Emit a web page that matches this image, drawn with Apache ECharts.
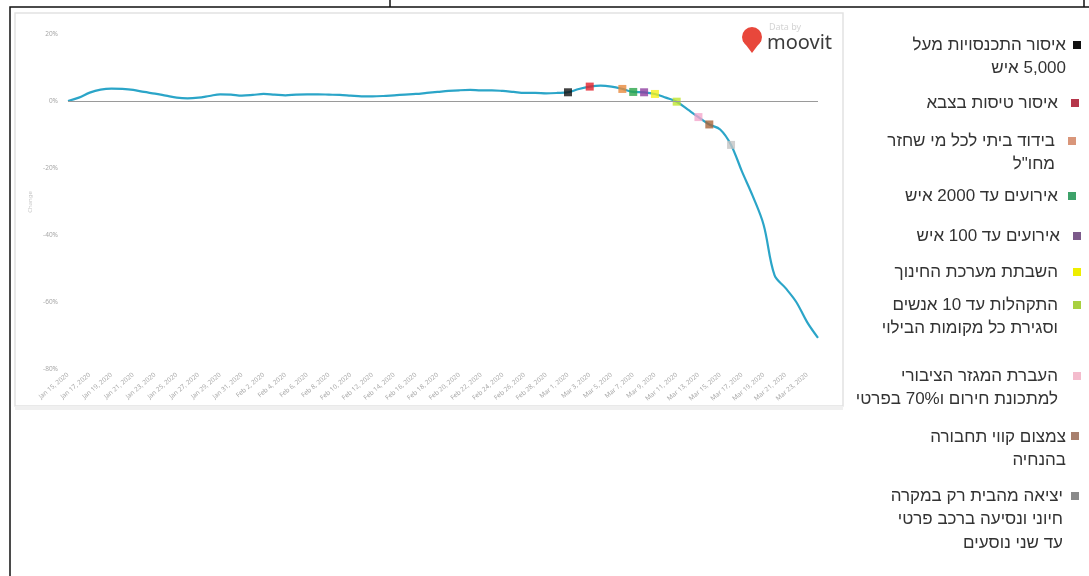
<!DOCTYPE html>
<html>
<head>
<meta charset="utf-8">
<script src="https://cdn.jsdelivr.net/npm/echarts@6/dist/echarts.min.js"></script>
<style>
html,body{margin:0;padding:0;background:#fff;}
#c{width:1089px;height:576px;}
</style>
</head>
<body>
<div id="c"></div>
<script>
// ---- categories (daily, Jan 15 – Mar 24, 2020) ----
const dates = [
 'Jan 15, 2020','Jan 16, 2020','Jan 17, 2020','Jan 18, 2020','Jan 19, 2020','Jan 20, 2020','Jan 21, 2020','Jan 22, 2020','Jan 23, 2020','Jan 24, 2020',
 'Jan 25, 2020','Jan 26, 2020','Jan 27, 2020','Jan 28, 2020','Jan 29, 2020','Jan 30, 2020','Jan 31, 2020','Feb 1, 2020','Feb 2, 2020','Feb 3, 2020',
 'Feb 4, 2020','Feb 5, 2020','Feb 6, 2020','Feb 7, 2020','Feb 8, 2020','Feb 9, 2020','Feb 10, 2020','Feb 11, 2020','Feb 12, 2020','Feb 13, 2020',
 'Feb 14, 2020','Feb 15, 2020','Feb 16, 2020','Feb 17, 2020','Feb 18, 2020','Feb 19, 2020','Feb 20, 2020','Feb 21, 2020','Feb 22, 2020','Feb 23, 2020',
 'Feb 24, 2020','Feb 25, 2020','Feb 26, 2020','Feb 27, 2020','Feb 28, 2020','Feb 29, 2020','Mar 1, 2020','Mar 2, 2020','Mar 3, 2020','Mar 4, 2020',
 'Mar 5, 2020','Mar 6, 2020','Mar 7, 2020','Mar 8, 2020','Mar 9, 2020','Mar 10, 2020','Mar 11, 2020','Mar 12, 2020','Mar 13, 2020','Mar 14, 2020',
 'Mar 15, 2020','Mar 16, 2020','Mar 17, 2020','Mar 18, 2020','Mar 19, 2020','Mar 20, 2020','Mar 21, 2020','Mar 22, 2020','Mar 23, 2020','Mar 24, 2020'
];
// ---- change in public-transit use (%) ----
const changeValues = [
 0, 1.0, 2.5, 3.4, 3.7, 3.6, 3.3, 2.7, 2.2, 1.6,
 1.0, 0.8, 1.0, 1.5, 2.0, 1.9, 1.6, 1.8, 2.1, 1.9,
 1.7, 1.9, 2.0, 2.0, 1.9, 1.8, 1.6, 1.4, 1.4, 1.5,
 1.7, 1.9, 2.1, 2.4, 2.7, 3.0, 3.2, 3.3, 3.2, 3.2,
 3.0, 2.7, 2.4, 2.4, 2.3, 2.4, 2.6, 3.6, 4.3, 4.6,
 4.3, 3.6, 2.7, 2.6, 2.1, 1.0, -0.2, -2.5, -4.8, -7.0,
 -8.5, -13.1, -21.0, -28.4, -37.0, -52.0, -55.8, -60.0, -66.0, -70.7
];
// ---- y ticks ----
const yTicks = [20, 0, -20, -40, -60, -80];
// ---- event markers ----
const markerDates = ['Mar 1, 2020','Mar 3, 2020','Mar 6, 2020','Mar 7, 2020','Mar 8, 2020','Mar 9, 2020','Mar 11, 2020','Mar 13, 2020','Mar 14, 2020','Mar 16, 2020'];
const markerColors = ['#111111','#e5202a','#e98a3c','#2aa54a','#8f3fa0','#f4f01c','#bfe52e','#f4a6cc','#a8643a','#c4c4c4'];
const legendColors = ['#111111','#b5364a','#d9967a','#3ea26a','#7c5a8a','#eeee00','#a8d040','#f4bccd','#a8806e','#8a8a8a'];
const legendLines = [
 ['איסור התכנסויות מעל','5,000 איש'],
 ['איסור טיסות בצבא'],
 ['בידוד ביתי לכל מי שחזר','מחו"ל'],
 ['אירועים עד 2000 איש'],
 ['אירועים עד 100 איש'],
 ['השבתת מערכת החינוך'],
 ['התקהלות עד 10 אנשים','וסגירת כל מקומות הבילוי'],
 ['העברת המגזר הציבורי','למתכונת חירום ו70% בפרטי'],
 ['צמצום קווי תחבורה','בהנחיה'],
 ['יציאה מהבית רק במקרה','חיוני ונסיעה ברכב פרטי','עד שני נוסעים']
];

// layout of the side legend (positions only)
const legendPos = [
 {sx:1077, sy:45, tx:1066, ty:45},
 {sx:1075, sy:103, tx:1058, ty:103},
 {sx:1072, sy:141, tx:1055, ty:141},
 {sx:1072, sy:196, tx:1058, ty:196},
 {sx:1077, sy:236, tx:1060, ty:236},
 {sx:1077, sy:272, tx:1058, ty:272},
 {sx:1077, sy:305, tx:1058, ty:305},
 {sx:1077, sy:376, tx:1058, ty:376},
 {sx:1075, sy:436, tx:1066, ty:437},
 {sx:1075, sy:496, tx:1063, ty:496}
];
const lineGap = 23.5;
const LEG_FONT = 17;
const LEG_FAMILY = 'Liberation Sans';

const chart = echarts.init(document.getElementById('c'), null, {renderer:'canvas'});

const graphics = [
  // outer frame
  {type:'rect', z:0, shape:{x:10, y:7, width:1100, height:600}, style:{fill:'#fff', stroke:'#111', lineWidth:1.5}},
  {type:'line', shape:{x1:390, y1:0, x2:390, y2:7}, style:{stroke:'#111', lineWidth:1.5}},
  {type:'line', shape:{x1:1084, y1:0, x2:1084, y2:7}, style:{stroke:'#111', lineWidth:1.5}},
  // chart picture box
  {type:'rect', z:1, shape:{x:15, y:13, width:828, height:393}, style:{fill:'#fff', stroke:'#e2e2e2', lineWidth:1.5}},
  {type:'rect', z:1, shape:{x:15, y:406, width:828, height:4}, style:{fill:'#f0f0f0'}},
  // moovit logo (pin)
  {type:'polygon', z:5, shape:{points:[[743,41],[761,41],[752,53]]}, style:{fill:'#e8473b'}},
  {type:'circle', z:5, shape:{cx:752, cy:37, r:10}, style:{fill:'#e8473b'}},
  {type:'text', z:5, left:769, top:23, style:{text:'Data by', fill:'#d4d4d4', fontSize:9, fontFamily:'Noto Sans'}},
  {type:'text', z:5, left:767, top:33, style:{text:'moovit', fill:'#3c3c3c', fontSize:20, fontFamily:'Noto Sans'}},
  // axis name
  {type:'text', z:5, x:30, y:202, rotation:Math.PI/2, style:{text:'Change', fill:'#c8c8c8', fontSize:6, fontFamily:'Noto Sans', align:'center', verticalAlign:'middle'}}
];

legendLines.forEach((lines, i) => {
  const p = legendPos[i];
  graphics.push({type:'rect', z:5, shape:{x:p.sx-4, y:p.sy-4, width:8, height:8}, style:{fill:legendColors[i]}});
  lines.forEach((line, j) => {
    graphics.push({type:'text', z:5, x:p.tx, y:p.ty + j*lineGap,
      style:{text:'\u200F' + line, fill:'#333', fontSize:LEG_FONT, fontFamily:LEG_FAMILY, align:'right', verticalAlign:'middle'}});
  });
});

const markerData = markerDates.map((d, i) => ({
  value:[d, changeValues[dates.indexOf(d)]],
  itemStyle:{color:markerColors[i]}
}));

chart.setOption({
  animation:false,
  backgroundColor:'transparent',
  graphic:graphics,
  grid:{left:68, right:271, top:34, bottom:207},
  xAxis:{
    type:'category', data:dates, boundaryGap:false, z:10,
    axisLine:{show:false}, axisTick:{show:false}, splitLine:{show:false},
    axisLabel:{interval:1, rotate:40, fontSize:6.5, color:'#a8a8a8', margin:5, fontFamily:'Noto Sans'}
  },
  yAxis:{
    type:'value', min:-80, max:20, interval:20, z:10,
    axisLine:{show:false}, axisTick:{show:false}, splitLine:{show:false},
    axisLabel:{fontSize:6.5, color:'#a8a8a8', margin:10, formatter:v=>v+'%', fontFamily:'Noto Sans'}
  },
  series:[
    {
      type:'line', data:changeValues, smooth:0.35, showSymbol:false, z:3,
      lineStyle:{color:'#2ba5c8', width:2.2},
      markLine:{silent:true, symbol:'none', label:{show:false},
        lineStyle:{color:'#9a9a9a', width:1, type:'solid'}, data:[{yAxis:0}]}
    },
    {
      type:'scatter', data:markerData, symbol:'rect', symbolSize:8, z:4
    }
  ]
});
</script>
</body>
</html>
